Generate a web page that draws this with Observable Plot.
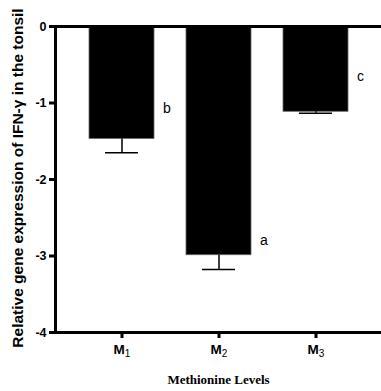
<!DOCTYPE html>
<html>
<head>
<meta charset="utf-8">
<script src="https://cdn.jsdelivr.net/npm/d3@7"></script>
<script src="https://cdn.jsdelivr.net/npm/@observablehq/plot@0.6"></script>
<style>
  html, body { margin: 0; padding: 0; background: #fff; }
</style>
</head>
<body>
<div id="chart"></div>
<script>
const categories = ["M1", "M2", "M3"];
const values = [-1.47, -2.99, -1.115];
const errors = [0.18, 0.185, 0.02];
const letters = ["b", "a", "c"];
const letterY = [-1.07, -2.8, -0.66];
const yTicks = [0, -1, -2, -3, -4];
const yLabel = "Relative gene expression of IFN-γ in the tonsil";
const xLabel = "Methionine Levels";

const data = categories.map((c, i) => ({
  cat: c, value: values[i], low: values[i] - errors[i], letter: letters[i], ly: letterY[i]
}));

const sans = "Liberation Sans, Arial, Helvetica, sans-serif";

const plot = Plot.plot({
  width: 381,
  height: 391,
  marginTop: 26,
  marginBottom: 59,
  marginLeft: 55,
  marginRight: 0,
  style: { fontFamily: sans, fontSize: "12px", background: "#fff", color: "#000" },
  x: { domain: categories, paddingInner: 0.333, paddingOuter: 0.338, label: null },
  y: { domain: [-4, 0], label: null },
  marks: [
    Plot.barY(data, { x: "cat", y1: 0, y2: "value", fill: "#000", stroke: "#666", strokeWidth: 0.8 }),
    Plot.ruleX(data, { x: "cat", y1: "value", y2: "low", stroke: "#000", strokeWidth: 1.5 }),
    Plot.tickY(data, { x: "cat", y: "low", stroke: "#000", strokeWidth: 1.5, insetLeft: 16, insetRight: 16 }),
    Plot.text(data, { x: "cat", y: "ly", text: "letter", textAnchor: "start", dx: 41, fontSize: 14, fill: "#000" }),
    Plot.ruleY([0, -4], { stroke: "#000", strokeWidth: 3 }),
    Plot.frame({ anchor: "left", stroke: "#000", strokeWidth: 3 }),
    Plot.axisY({ ticks: yTicks, tickSize: 6, tickPadding: 3, strokeWidth: 3, fontWeight: "bold", fontSize: 12.5, label: null, tickFormat: d => d === 0 ? "0" : String(d).replace("−", "-") }),
    Plot.axisX({ tickSize: 6, tickPadding: 6, strokeWidth: 3, fontWeight: "bold", fontSize: 13.5, label: null }),
    Plot.text([yLabel], { frameAnchor: "left", textAnchor: "middle", rotate: -90, dx: -37, dy: -1.5, fontWeight: "bold", fontSize: 15.5, fill: "#000" }),
    Plot.text([xLabel], { frameAnchor: "bottom", textAnchor: "middle", dy: 51, fontWeight: "bold", fontSize: 13, fontFamily: "Liberation Serif, Times New Roman, serif", fill: "#000" })
  ]
});

document.getElementById("chart").appendChild(plot);

// Render the x tick labels with subscripts
d3.select(plot).selectAll('[aria-label="x-axis tick label"] text').each(function() {
  const t = d3.select(this);
  const s = t.text();
  t.text(null);
  t.append("tspan").text(s[0]);
  t.append("tspan").attr("font-size", "10px").attr("font-weight", "normal").attr("dy", "0.3em").text(s.slice(1));
});
</script>
</body>
</html>
